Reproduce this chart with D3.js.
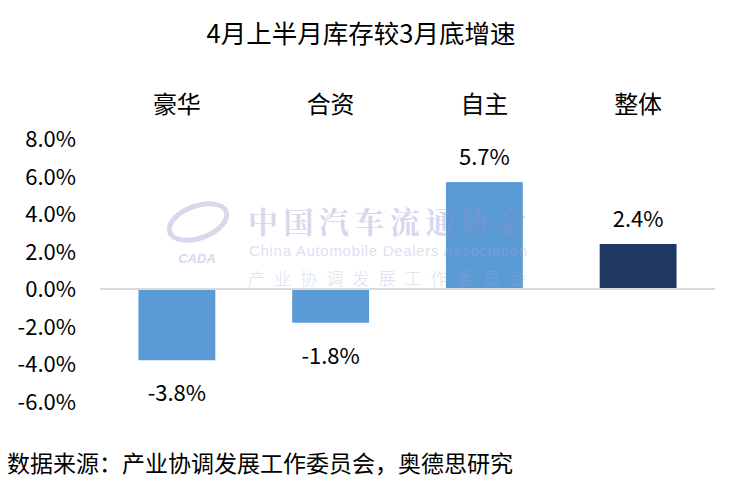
<!DOCTYPE html>
<html><head><meta charset="utf-8">
<script src="https://cdn.jsdelivr.net/npm/d3@7"></script>
<style>body{margin:0;background:#fff;}svg{display:block;font-family:"Noto Sans CJK SC","Open Sans",sans-serif;}</style>
</head><body>
<svg id="c" width="732" height="482"></svg>
<script>
const title = "4月上半月库存较3月底增速";
const categories = ["豪华","合资","自主","整体"];
const values = [-3.8,-1.8,5.7,2.4];
const barColors = ["#5b9bd5","#5b9bd5","#5b9bd5","#203864"];
const yTicks = [8,6,4,2,0,-2,-4,-6];
const source = "数据来源：产业协调发展工作委员会，奥德思研究";

const svg = d3.select("#c");
const x = d3.scaleBand().domain(categories).range([100,715]).paddingInner(0.5).paddingOuter(0.25);
const y = d3.scaleLinear().domain([-6,8]).range([401.5,139]);

svg.append("text").attr("x",361).attr("y",31).attr("text-anchor","middle").attr("dominant-baseline","central")
  .attr("font-size",25.5).attr("fill","#000").text(title);

// y axis labels
const yAxis = d3.axisLeft(y).tickValues(yTicks).tickSize(0).tickPadding(0).tickFormat(d=>d.toFixed(1)+"%");
const ga = svg.append("g").attr("transform","translate(76,0)").call(yAxis);
ga.select(".domain").remove();
ga.selectAll("text").attr("font-size",22).attr("fill","#000").attr("font-family","'Noto Sans CJK SC','Open Sans',sans-serif").attr("dy","0.35em");

// category labels
svg.selectAll(".cat").data(categories).join("text").attr("class","cat")
  .attr("x",d=>x(d)+x.bandwidth()/2).attr("y",102).attr("text-anchor","middle").attr("dominant-baseline","central")
  .attr("font-size",24).attr("fill","#000").text(d=>d);

// bars
svg.selectAll(".bar").data(values).join("rect").attr("class","bar")
  .attr("x",(d,i)=>x(categories[i])).attr("width",x.bandwidth())
  .attr("y",d=>Math.min(y(d),y(0))).attr("height",d=>Math.abs(y(d)-y(0)))
  .attr("fill",(d,i)=>barColors[i]);

// zero line
svg.append("line").attr("x1",100).attr("x2",715).attr("y1",y(0)).attr("y2",y(0)).attr("stroke","#d9d9d9").attr("stroke-width",2);

// value labels
svg.selectAll(".val").data(values).join("text").attr("class","val")
  .attr("x",(d,i)=>x(categories[i])+x.bandwidth()/2)
  .attr("y",d=>d>=0? y(d)-27 : y(d)+31)
  .attr("text-anchor","middle").attr("dominant-baseline","central")
  .attr("font-size",22).attr("fill","#000").text(d=>d.toFixed(1)+"%");

// watermark
const wm = svg.append("g").attr("opacity",0.35).attr("fill","#8c92c9");
wm.append("text").attr("x",387).attr("y",220).attr("text-anchor","middle").attr("dominant-baseline","central")
  .attr("font-size",30).attr("font-weight","bold").attr("font-family","'Noto Serif CJK SC','Noto Sans CJK SC',serif")
  .attr("textLength",278).text("中国汽车流通协会");
wm.append("text").attr("x",388).attr("y",250).attr("text-anchor","middle").attr("dominant-baseline","central")
  .attr("font-size",15).attr("font-family","'Liberation Sans',Arial,sans-serif").attr("textLength",278).attr("fill","#a0a6d8").text("China Automobile Dealers Association");
wm.append("text").attr("x",387).attr("y",277).attr("text-anchor","middle").attr("dominant-baseline","central")
  .attr("font-size",17).attr("textLength",278).attr("font-weight","300").attr("fill","#a0a6d8").text("产业协调发展工作委员会");
wm.append("ellipse").attr("cx",198).attr("cy",222).attr("rx",30).attr("ry",16).attr("fill","none").attr("stroke","#8c92c9").attr("stroke-width",5).attr("transform","rotate(-20,198,222)");
wm.append("text").attr("x",197).attr("y",258).attr("text-anchor","middle").attr("dominant-baseline","central")
  .attr("font-size",13).attr("font-weight","bold").attr("font-style","italic").attr("font-family","'Liberation Sans',sans-serif").text("CADA");

// source
svg.append("text").attr("x",7).attr("y",462).attr("dominant-baseline","central").attr("font-size",23).attr("fill","#000").text(source);
</script>
</body></html>
